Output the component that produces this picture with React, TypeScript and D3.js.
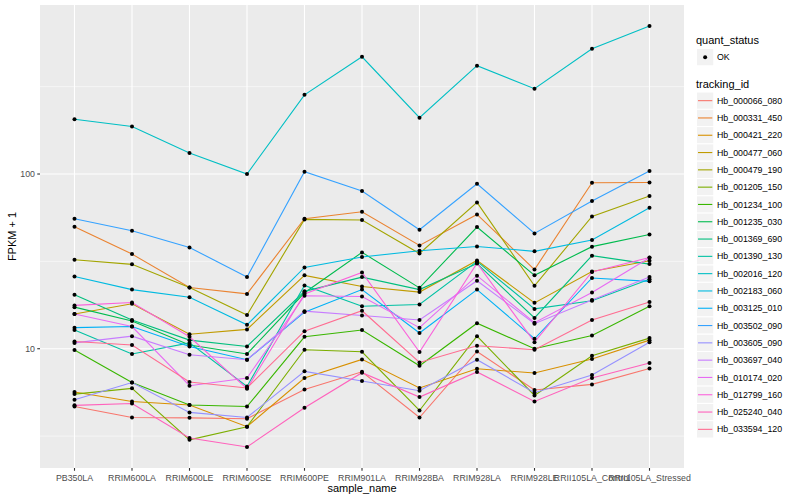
import * as d3 from "d3";
import React from "react";

// sample (x) categories
const samples = [
  "PB350LA",
  "RRIM600LA",
  "RRIM600LE",
  "RRIM600SE",
  "RRIM600PE",
  "RRIM901LA",
  "RRIM928BA",
  "RRIM928LA",
  "RRIM928LE",
  "RRII105LA_Control",
  "RRII105LA_Stressed",
];

// FPKM + 1 per gene, one value per sample
const hb000066_080 = [4.67, 4.04, 4.02, 3.97, 5.85, 7.38, 4.04, 9.65, 5.8, 6.25, 7.71];
const hb000331_450 = [49.9, 34.8, 22.4, 20.6, 55.5, 60.8, 39.0, 58.7, 28.4, 89.2, 89.5];
const hb000421_220 = [5.65, 4.99, 4.76, 3.58, 6.8, 8.69, 5.96, 7.68, 7.26, 8.73, 11.2];
const hb000477_060 = [15.8, 18.1, 12.1, 12.9, 26.3, 22.7, 21.1, 32.0, 18.3, 27.7, 31.9];
const hb000479_190 = [32.3, 30.4, 22.4, 15.6, 55.0, 54.5, 35.1, 68.8, 22.9, 57.2, 74.8];
const hb001205_150 = [5.5, 5.93, 3.01, 3.58, 9.87, 9.61, 4.43, 11.8, 5.4, 9.12, 11.5];
const hb001234_100 = [9.83, 6.41, 4.76, 4.67, 11.7, 12.8, 7.99, 14.0, 10.0, 11.9, 17.5];
const hb001235_030 = [17.3, 14.4, 10.5, 9.33, 20.9, 35.6, 22.3, 49.7, 26.3, 38.4, 45.1];
const hb001369_690 = [20.4, 14.6, 11.2, 10.3, 21.3, 25.7, 21.8, 30.7, 15.0, 34.1, 30.5];
const hb001390_130 = [12.8, 9.33, 10.8, 6.08, 23.0, 17.5, 17.9, 31.6, 16.9, 18.8, 25.0];
const hb002016_120 = [206, 187, 132, 100, 284, 469, 210, 417, 308, 521, 703];
const hb002183_060 = [25.9, 21.8, 19.7, 13.7, 29.2, 33.5, 36.4, 38.5, 36.1, 41.9, 64.1];
const hb003125_010 = [13.2, 13.4, 10.3, 8.65, 16.2, 21.8, 12.3, 21.8, 11.4, 25.4, 24.3];
const hb003502_090 = [55.5, 47.4, 38.0, 25.7, 103, 79.9, 48.0, 88.0, 45.7, 70.0, 104];
const hb003605_090 = [5.11, 6.41, 4.32, 4.04, 7.42, 6.53, 5.75, 8.65, 5.6, 7.07, 10.9];
const hb003697_040 = [10.8, 11.8, 9.24, 8.65, 16.4, 15.5, 14.6, 24.5, 13.9, 19.0, 25.7];
const hb010174_020 = [15.8, 13.4, 6.14, 6.8, 20.1, 19.9, 13.2, 26.2, 14.1, 21.0, 33.2];
const hb012799_160 = [17.7, 18.4, 11.7, 5.9, 20.6, 27.3, 9.57, 30.9, 10.9, 27.5, 33.3];
const hb025240_040 = [4.74, 4.86, 3.08, 2.74, 4.59, 7.29, 5.29, 7.36, 4.99, 6.8, 8.28];
const hb033594_120 = [11.0, 10.5, 6.45, 5.96, 12.6, 16.5, 8.35, 10.4, 9.87, 14.6, 18.5];

const series = [
  { id: "Hb_000066_080", values: hb000066_080 },
  { id: "Hb_000331_450", values: hb000331_450 },
  { id: "Hb_000421_220", values: hb000421_220 },
  { id: "Hb_000477_060", values: hb000477_060 },
  { id: "Hb_000479_190", values: hb000479_190 },
  { id: "Hb_001205_150", values: hb001205_150 },
  { id: "Hb_001234_100", values: hb001234_100 },
  { id: "Hb_001235_030", values: hb001235_030 },
  { id: "Hb_001369_690", values: hb001369_690 },
  { id: "Hb_001390_130", values: hb001390_130 },
  { id: "Hb_002016_120", values: hb002016_120 },
  { id: "Hb_002183_060", values: hb002183_060 },
  { id: "Hb_003125_010", values: hb003125_010 },
  { id: "Hb_003502_090", values: hb003502_090 },
  { id: "Hb_003605_090", values: hb003605_090 },
  { id: "Hb_003697_040", values: hb003697_040 },
  { id: "Hb_010174_020", values: hb010174_020 },
  { id: "Hb_012799_160", values: hb012799_160 },
  { id: "Hb_025240_040", values: hb025240_040 },
  { id: "Hb_033594_120", values: hb033594_120 },
];

const yMajor = [10, 100, 1000];
const yMinor = [Math.pow(10, 0.5), Math.pow(10, 1.5), Math.pow(10, 2.5)];

// ggplot2 default hue palette for 20 groups
const palette = [
  "#F8766D", "#EA8331", "#D89000", "#C09B00", "#A3A500",
  "#7CAE00", "#39B600", "#00BB4E", "#00BF7D", "#00C1A3",
  "#00BFC4", "#00BAE0", "#00B0F6", "#35A2FF", "#9590FF",
  "#C77CFF", "#E76BF3", "#FA62DB", "#FF62BC", "#FF6C91",
];

const width = 800;
const height = 500;
const panel = { left: 40, right: 684, top: 5, bottom: 468 };
const font = "'Liberation Sans', Arial, Helvetica, sans-serif";

export default function App() {
  const svgRef = React.useRef<SVGSVGElement>(null);

  React.useEffect(() => {
    document.body.style.margin = "0";
    const svg = d3.select(svgRef.current);
    svg.selectAll("*").remove();

    const color = d3
      .scaleOrdinal<string>()
      .domain(series.map((s) => s.id))
      .range(palette);

    const x = d3
      .scalePoint<string>()
      .domain(samples)
      .range([panel.left, panel.right])
      .padding(0.6);

    // log scale with ggplot's 5% expansion in log space
    const allVals = series.flatMap((s) => s.values);
    const lo = Math.log10(d3.min(allVals) ?? 1);
    const hi = Math.log10(d3.max(allVals) ?? 10);
    const pad = (hi - lo) * 0.05;
    const y = d3
      .scaleLog()
      .domain([Math.pow(10, lo - pad), Math.pow(10, hi + pad)])
      .range([panel.bottom, panel.top]);
    const [d0, d1] = y.domain();
    const inRange = (v: number) => v >= d0 && v <= d1;

    svg.attr("font-family", font);

    // panel background
    svg
      .append("rect")
      .attr("x", panel.left)
      .attr("y", panel.top)
      .attr("width", panel.right - panel.left)
      .attr("height", panel.bottom - panel.top)
      .attr("fill", "#EBEBEB");

    // grid
    const grid = svg.append("g");
    grid
      .selectAll(".minor")
      .data(yMinor.filter(inRange))
      .enter()
      .append("line")
      .attr("x1", panel.left)
      .attr("x2", panel.right)
      .attr("y1", (d) => y(d))
      .attr("y2", (d) => y(d))
      .attr("stroke", "#fff")
      .attr("stroke-width", 0.55);
    grid
      .selectAll(".major")
      .data(yMajor.filter(inRange))
      .enter()
      .append("line")
      .attr("x1", panel.left)
      .attr("x2", panel.right)
      .attr("y1", (d) => y(d))
      .attr("y2", (d) => y(d))
      .attr("stroke", "#fff")
      .attr("stroke-width", 1.1);
    grid
      .selectAll(".vmajor")
      .data(samples)
      .enter()
      .append("line")
      .attr("x1", (d) => x(d) ?? 0)
      .attr("x2", (d) => x(d) ?? 0)
      .attr("y1", panel.top)
      .attr("y2", panel.bottom)
      .attr("stroke", "#fff")
      .attr("stroke-width", 1.1);

    // lines
    const line = d3
      .line<number>()
      .x((_, i) => x(samples[i]) ?? 0)
      .y((d) => y(d));

    svg
      .append("g")
      .selectAll("path")
      .data(series)
      .enter()
      .append("path")
      .attr("d", (s) => line(s.values))
      .attr("fill", "none")
      .attr("stroke", (s) => color(s.id))
      .attr("stroke-width", 1.1);

    // points
    svg
      .append("g")
      .selectAll("circle")
      .data(series.flatMap((s) => s.values.map((v, i) => ({ v, i }))))
      .enter()
      .append("circle")
      .attr("cx", (d) => x(samples[d.i]) ?? 0)
      .attr("cy", (d) => y(d.v))
      .attr("r", 2)
      .attr("fill", "#000");

    // y axis
    const yAxis = svg.append("g");
    yMajor.filter(inRange).forEach((t) => {
      yAxis
        .append("line")
        .attr("x1", panel.left - 2.75)
        .attr("x2", panel.left)
        .attr("y1", y(t))
        .attr("y2", y(t))
        .attr("stroke", "#333333")
        .attr("stroke-width", 1.1);
      yAxis
        .append("text")
        .attr("x", panel.left - 5)
        .attr("y", y(t))
        .attr("dy", "0.35em")
        .attr("text-anchor", "end")
        .attr("font-size", 8.8)
        .attr("fill", "#4D4D4D")
        .text(String(t));
    });

    // x axis
    const xAxis = svg.append("g");
    samples.forEach((s) => {
      const px = x(s) ?? 0;
      xAxis
        .append("line")
        .attr("x1", px)
        .attr("x2", px)
        .attr("y1", panel.bottom)
        .attr("y2", panel.bottom + 2.75)
        .attr("stroke", "#333333")
        .attr("stroke-width", 1.1);
      xAxis
        .append("text")
        .attr("x", px)
        .attr("y", panel.bottom + 12.8)
        .attr("text-anchor", "middle")
        .attr("font-size", 8.8)
        .attr("fill", "#4D4D4D")
        .text(s);
    });

    // axis titles
    svg
      .append("text")
      .attr("x", (panel.left + panel.right) / 2)
      .attr("y", 492)
      .attr("text-anchor", "middle")
      .attr("font-size", 11)
      .text("sample_name");
    svg
      .append("text")
      .attr("transform", `translate(16,${(panel.top + panel.bottom) / 2}) rotate(-90)`)
      .attr("text-anchor", "middle")
      .attr("font-size", 11)
      .text("FPKM + 1");

    // legends
    const lx = 696;
    const keyW = 17.3;
    const lg = svg.append("g");
    lg.append("text")
      .attr("x", lx)
      .attr("y", 44)
      .attr("font-size", 11)
      .text("quant_status");
    lg.append("rect")
      .attr("x", lx + 0.5)
      .attr("y", 48.5)
      .attr("width", keyW)
      .attr("height", keyW)
      .attr("fill", "#F2F2F2")
      .attr("stroke", "#fff");
    lg.append("circle")
      .attr("cx", lx + 0.5 + keyW / 2)
      .attr("cy", 48.5 + keyW / 2)
      .attr("r", 2)
      .attr("fill", "#000");
    lg.append("text")
      .attr("x", lx + 21)
      .attr("y", 48.5 + keyW / 2)
      .attr("dy", "0.35em")
      .attr("font-size", 8.8)
      .text("OK");

    lg.append("text")
      .attr("x", lx)
      .attr("y", 88)
      .attr("font-size", 11)
      .text("tracking_id");
    const keyTop = 92;
    series.forEach((s, i) => {
      const ky = keyTop + i * keyW;
      lg.append("rect")
        .attr("x", lx + 0.5)
        .attr("y", ky)
        .attr("width", keyW)
        .attr("height", keyW)
        .attr("fill", "#F2F2F2")
        .attr("stroke", "#fff");
      lg.append("line")
        .attr("x1", lx + 2)
        .attr("x2", lx + keyW - 1)
        .attr("y1", ky + keyW / 2)
        .attr("y2", ky + keyW / 2)
        .attr("stroke", color(s.id))
        .attr("stroke-width", 1.1);
      lg.append("text")
        .attr("x", lx + 21)
        .attr("y", ky + keyW / 2)
        .attr("dy", "0.35em")
        .attr("font-size", 8.8)
        .text(s.id);
    });
  }, []);

  return (
    <svg
      ref={svgRef}
      width={width}
      height={height}
      viewBox={`0 0 ${width} ${height}`}
      style={{ display: "block", background: "#fff" }}
    ></svg>
  );
}
